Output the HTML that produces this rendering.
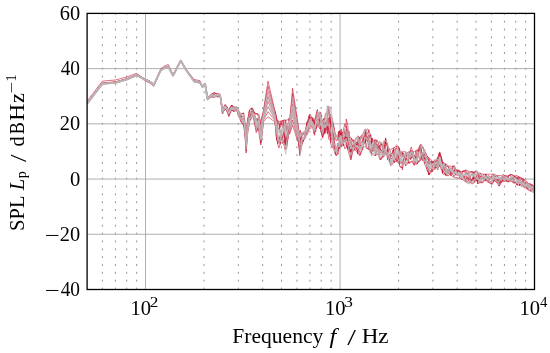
<!DOCTYPE html>
<html><head><meta charset="utf-8"><style>
html,body{margin:0;padding:0;background:#fff;}
svg{display:block;}
.t{font-family:"Liberation Serif",serif;fill:#000;}
.sup{font-size:14px;}
.mg{stroke:#8a8a8a;stroke-width:0.9;stroke-dasharray:2 5.85;stroke-dashoffset:0.6;}
.Mg{stroke:#b0b0b0;stroke-width:1;}
.ax{fill:none;stroke:#000;stroke-width:1.3;}
.r{fill:none;stroke:#c8102e;stroke-opacity:0.6;stroke-width:1.0;stroke-linejoin:round;}
.g{fill:none;stroke:#bcbabb;stroke-opacity:0.75;stroke-width:1.4;stroke-linejoin:round;}
.r1{fill:none;stroke:#c8102e;stroke-opacity:0.6;stroke-width:1.0;stroke-linejoin:round;}
.g1{fill:none;stroke:#bab6b8;stroke-opacity:0.75;stroke-width:1.8;stroke-linejoin:round;}
</style></head><body>
<svg width="550" height="353" viewBox="0 0 550 353">
<rect width="550" height="353" fill="#fff"/>
<line x1="102.40" y1="13.4" x2="102.40" y2="289.5" class="mg"/><line x1="115.42" y1="13.4" x2="115.42" y2="289.5" class="mg"/><line x1="126.70" y1="13.4" x2="126.70" y2="289.5" class="mg"/><line x1="136.65" y1="13.4" x2="136.65" y2="289.5" class="mg"/><line x1="204.10" y1="13.4" x2="204.10" y2="289.5" class="mg"/><line x1="238.35" y1="13.4" x2="238.35" y2="289.5" class="mg"/><line x1="262.65" y1="13.4" x2="262.65" y2="289.5" class="mg"/><line x1="281.50" y1="13.4" x2="281.50" y2="289.5" class="mg"/><line x1="296.90" y1="13.4" x2="296.90" y2="289.5" class="mg"/><line x1="309.92" y1="13.4" x2="309.92" y2="289.5" class="mg"/><line x1="321.20" y1="13.4" x2="321.20" y2="289.5" class="mg"/><line x1="331.15" y1="13.4" x2="331.15" y2="289.5" class="mg"/><line x1="398.60" y1="13.4" x2="398.60" y2="289.5" class="mg"/><line x1="432.85" y1="13.4" x2="432.85" y2="289.5" class="mg"/><line x1="457.15" y1="13.4" x2="457.15" y2="289.5" class="mg"/><line x1="476.00" y1="13.4" x2="476.00" y2="289.5" class="mg"/><line x1="491.40" y1="13.4" x2="491.40" y2="289.5" class="mg"/><line x1="504.42" y1="13.4" x2="504.42" y2="289.5" class="mg"/><line x1="515.70" y1="13.4" x2="515.70" y2="289.5" class="mg"/><line x1="525.65" y1="13.4" x2="525.65" y2="289.5" class="mg"/><line x1="145.55" y1="13.4" x2="145.55" y2="289.5" class="Mg"/><line x1="340.05" y1="13.4" x2="340.05" y2="289.5" class="Mg"/><line x1="87.1" y1="68.62" x2="534.5" y2="68.62" class="Mg"/><line x1="87.1" y1="123.84" x2="534.5" y2="123.84" class="Mg"/><line x1="87.1" y1="179.06" x2="534.5" y2="179.06" class="Mg"/><line x1="87.1" y1="234.28" x2="534.5" y2="234.28" class="Mg"/>
<g clip-path="url(#c)">
<clipPath id="c"><rect x="87.1" y="13.4" width="447.4" height="276.1"/></clipPath>
<path class="r1" d="M87.1,101.1 L102.4,81.1 L115.4,80.0 L126.7,77.0 L136.7,73.3 L145.6,80.0 L150.0,82.2 L153.8,85.2 L160.8,68.6 L164.5,66.1 L168.3,64.5 L173.1,74.7 L180.7,59.9 L186.6,69.9 L194.2,79.5 L200.0,80.7 L202.5,86.1 L205.1,83.1 L207.5,97.4"/><path class="r" d="M205.1,83.1 L207.5,97.4 L210.0,96.0 L211.0,94.5 L212.8,93.6 L214.4,92.7 L215.5,93.4 L217.6,94.5 L219.1,94.2 L219.8,94.3 L220.4,95.6 L222.5,109.1 L222.6,108.4 L224.5,106.3 L225.2,104.6 L227.0,106.9 L227.2,108.8 L228.9,111.5 L229.9,107.7 L231.5,105.5 L232.3,107.0 L234.0,107.5 L234.5,107.0 L236.6,108.2 L236.7,107.4 L238.5,111.3 L238.8,110.8 L241.0,115.0 L241.2,114.0 L243.6,113.0 L243.6,114.1 L244.8,120.5 L246.0,132.3 L246.1,136.0 L247.6,120.0 L248.9,113.2 L249.5,110.0 L250.6,109.0 L251.6,108.3 L252.5,108.0 L253.8,111.6 L254.1,111.9 L256.2,114.0 L257.0,113.1 L258.2,114.7 L259.1,114.8 L260.8,124.6 L261.2,119.5 L263.5,110.2 L263.7,109.1 L265.6,96.5 L267.6,83.9 L268.0,81.2 L270.0,89.8 L272.4,99.9 L274.8,110.2 L275.2,112.0 L276.6,120.9 L277.7,119.9 L278.9,122.0 L280.1,121.4 L280.9,121.0 L282.5,127.8 L283.9,120.0 L284.7,120.0 L285.7,120.0 L286.6,120.0 L287.2,120.0 L288.7,118.8 L289.8,118.3 L291.3,102.4 L292.6,88.3 L293.4,93.5 L295.7,108.4 L297.6,121.1 L297.8,122.4 L299.8,136.2 L300.3,130.3 L301.7,135.8 L301.8,135.5 L303.3,134.1 L304.7,131.7 L305.3,131.1 L307.0,121.5 L307.7,121.3 L308.9,115.5 L309.7,119.4 L310.7,117.6 L312.6,117.7 L312.7,117.9 L314.0,119.2 L314.6,124.9 L315.7,123.9 L317.4,116.4 L317.6,112.7 L319.4,115.0 L320.6,111.9 L321.0,113.5 L322.6,124.1 L322.8,120.7 L324.2,118.3 L324.6,117.9 L325.8,113.0 L327.4,113.6 L327.5,112.8 L328.8,106.2 L330.5,122.3 L330.7,115.9 L332.4,118.8 L332.5,119.8 L334.4,129.8 L335.5,135.7 L336.1,136.5 L337.9,136.2 L338.5,140.9 L339.7,130.5 L340.4,134.6 L341.5,131.4 L343.0,133.3 L343.4,130.6 L344.7,123.8 L346.2,127.5 L346.2,118.9 L347.8,125.5 L347.9,134.1 L349.2,137.6 L350.9,137.8 L351.3,138.0 L352.8,141.7 L353.9,139.8 L354.6,141.4 L356.1,137.6 L357.9,139.2 L358.1,136.0 L359.8,138.1 L359.9,137.7 L361.4,135.7 L362.8,134.8 L363.3,132.8 L365.3,128.9 L365.8,131.8 L367.3,134.1 L368.8,129.8 L369.0,131.9 L370.5,134.4 L371.7,142.3 L372.0,138.0 L374.0,142.1 L374.7,144.9 L375.7,144.2 L376.7,139.8 L377.2,141.2 L379.1,143.6 L379.7,141.7 L380.9,142.5 L382.7,148.9 L382.7,144.7 L384.3,140.5 L385.6,143.8 L385.9,139.3 L387.5,145.7 L387.6,152.6 L388.8,148.6 L390.6,149.7 L390.8,149.6 L392.5,148.4 L393.6,147.7 L394.2,148.0 L395.8,145.7 L396.5,145.0 L397.7,146.0 L399.0,147.3 L399.5,150.0 L400.7,154.4 L402.0,151.1 L402.5,152.6 L403.5,151.9 L405.5,151.7 L405.5,151.7 L407.3,155.8 L408.5,154.6 L409.0,156.2 L410.7,148.2 L411.4,147.0 L412.6,152.2 L414.2,151.7 L414.4,151.7 L416.0,150.6 L417.4,149.7 L417.8,151.7 L419.4,146.4 L420.9,144.0 L421.1,145.1 L422.8,146.4 L423.9,151.0 L424.5,156.3 L425.8,153.0 L426.9,155.9 L427.6,156.6 L428.8,157.9 L428.8,157.9 L430.4,158.9 L431.8,161.3 L432.1,160.8 L433.4,162.4 L434.8,160.9 L434.8,161.1 L436.5,161.0 L437.7,157.6 L437.8,158.6 L439.3,152.9 L439.8,151.9 L441.0,156.0 L442.5,161.1 L442.7,161.8 L444.1,163.7 L445.5,167.5 L445.7,163.8 L446.8,164.5 L448.2,166.4 L448.7,165.8 L449.5,165.8 L450.9,166.1 L451.7,167.0 L452.7,166.3 L454.2,165.8 L454.6,165.8 L455.6,170.1 L457.0,169.9 L457.6,169.8 L458.8,170.4 L460.2,171.2 L461.6,174.3 L462.0,174.0 L463.5,170.8 L465.1,171.5 L465.6,169.8 L466.8,173.3 L468.4,175.5 L469.5,171.7 L470.0,171.7 L471.4,171.7 L473.2,172.5 L473.5,172.4 L474.6,172.0 L476.4,171.7 L477.5,171.7 L477.6,174.4 L479.1,173.2 L480.6,173.1 L481.4,174.6 L482.4,173.7 L483.7,174.5 L485.4,174.1 L485.7,174.2 L487.0,174.2 L488.5,174.2 L488.6,174.2 L490.2,174.2 L491.3,174.2 L492.0,174.2 L493.4,174.2 L494.2,174.2 L494.8,174.5 L496.1,175.2 L497.0,175.8 L497.4,175.6 L498.7,175.6 L499.1,175.6 L500.5,175.6 L501.2,175.6 L502.2,176.5 L503.3,174.2 L503.4,174.3 L505.0,176.1 L505.5,175.9 L506.5,176.9 L508.0,177.3 L508.3,175.6 L509.6,175.7 L511.0,174.2 L511.1,174.2 L512.8,175.0 L514.0,176.4 L514.3,176.7 L515.8,175.6 L516.8,175.6 L517.4,175.9 L518.7,176.6 L519.6,178.4 L520.0,177.2 L521.4,177.9 L522.5,179.9 L523.1,178.8 L524.8,180.1 L525.3,180.5 L526.4,181.3 L527.7,182.3 L528.1,184.4 L529.4,184.0 L531.0,184.0 L531.1,184.6 L532.8,185.0 L534.3,187.7 L535.0,187.3"/><path class="r1" d="M87.1,103.1 L102.4,83.1 L115.4,82.0 L126.7,78.8 L136.7,74.6 L145.6,79.1 L150.0,81.1 L153.8,84.1 L160.8,69.5 L164.5,67.4 L168.3,66.1 L173.1,74.9 L180.7,60.1 L186.6,70.1 L194.2,80.8 L200.0,82.0 L202.5,86.3 L205.1,83.3 L207.5,98.0"/><path class="r" d="M205.1,83.3 L207.5,98.0 L210.0,95.3 L211.0,94.5 L212.8,93.5 L214.4,92.7 L215.5,93.2 L217.6,94.2 L219.1,95.1 L219.8,94.3 L220.4,95.3 L222.5,110.2 L222.6,108.4 L224.5,106.0 L225.2,104.6 L227.0,107.8 L227.2,106.8 L228.9,111.7 L229.9,109.4 L231.5,106.8 L232.3,105.4 L234.0,108.8 L234.5,107.0 L236.6,107.2 L236.7,107.4 L238.5,112.1 L238.8,112.8 L241.0,116.8 L241.2,114.0 L243.6,113.0 L243.6,113.6 L244.8,123.4 L246.0,137.6 L246.1,137.5 L247.6,123.4 L248.9,113.2 L249.5,110.0 L250.6,109.0 L251.6,108.3 L252.5,110.6 L253.8,112.5 L254.1,111.9 L256.2,114.6 L257.0,113.6 L258.2,116.3 L259.1,125.2 L260.8,133.8 L261.2,120.7 L263.5,111.9 L263.7,110.9 L265.6,99.7 L267.6,88.6 L268.0,86.3 L270.0,93.9 L272.4,102.8 L274.8,111.9 L275.2,111.7 L276.6,118.0 L277.7,122.4 L278.9,122.0 L280.1,127.7 L280.9,121.0 L282.5,120.5 L283.9,120.0 L284.7,131.1 L285.7,120.0 L286.6,130.6 L287.2,130.4 L288.7,118.8 L289.8,120.5 L291.3,106.2 L292.6,93.5 L293.4,98.4 L295.7,112.2 L297.6,123.9 L297.8,125.1 L299.8,136.6 L300.3,139.7 L301.7,140.3 L301.8,134.3 L303.3,134.2 L304.7,133.3 L305.3,134.1 L307.0,122.1 L307.7,121.3 L308.9,119.2 L309.7,113.9 L310.7,115.3 L312.6,119.7 L312.7,119.9 L314.0,127.1 L314.6,120.6 L315.7,115.7 L317.4,109.5 L317.6,118.6 L319.4,115.6 L320.6,122.6 L321.0,123.0 L322.6,132.6 L322.8,120.8 L324.2,118.3 L324.6,120.3 L325.8,125.4 L327.4,116.7 L327.5,106.0 L328.8,115.2 L330.5,121.9 L330.7,123.6 L332.4,123.4 L332.5,128.4 L334.4,139.7 L335.5,135.7 L336.1,134.8 L337.9,139.7 L338.5,131.7 L339.7,131.2 L340.4,135.0 L341.5,133.3 L343.0,137.6 L343.4,146.1 L344.7,129.6 L346.2,138.7 L346.2,135.1 L347.8,129.5 L347.9,132.5 L349.2,131.2 L350.9,149.7 L351.3,138.4 L352.8,139.6 L353.9,145.2 L354.6,141.7 L356.1,141.9 L357.9,143.1 L358.1,136.0 L359.8,137.8 L359.9,140.4 L361.4,135.7 L362.8,135.7 L363.3,138.8 L365.3,134.8 L365.8,133.2 L367.3,128.9 L368.8,130.2 L369.0,137.3 L370.5,134.4 L371.7,142.7 L372.0,138.0 L374.0,147.7 L374.7,139.8 L375.7,139.8 L376.7,143.7 L377.2,145.3 L379.1,146.7 L379.7,145.1 L380.9,144.1 L382.7,144.3 L382.7,149.0 L384.3,148.9 L385.6,137.8 L385.9,144.1 L387.5,143.3 L387.6,146.1 L388.8,148.2 L390.6,152.0 L390.8,156.4 L392.5,152.5 L393.6,147.9 L394.2,150.4 L395.8,149.0 L396.5,147.8 L397.7,149.6 L399.0,153.8 L399.5,151.5 L400.7,155.8 L402.0,152.2 L402.5,157.0 L403.5,153.2 L405.5,160.3 L405.5,161.7 L407.3,152.2 L408.5,153.1 L409.0,156.1 L410.7,150.4 L411.4,151.8 L412.6,151.7 L414.2,156.3 L414.4,159.8 L416.0,150.6 L417.4,158.2 L417.8,150.5 L419.4,151.3 L420.9,145.8 L421.1,150.9 L422.8,147.0 L423.9,150.5 L424.5,149.6 L425.8,153.7 L426.9,157.3 L427.6,156.6 L428.8,157.9 L428.8,163.0 L430.4,165.2 L431.8,163.4 L432.1,161.9 L433.4,163.5 L434.8,159.8 L434.8,163.3 L436.5,162.2 L437.7,160.1 L437.8,157.8 L439.3,152.9 L439.8,156.1 L441.0,156.4 L442.5,165.6 L442.7,162.5 L444.1,162.8 L445.5,165.1 L445.7,166.6 L446.8,169.8 L448.2,169.4 L448.7,166.7 L449.5,170.8 L450.9,168.8 L451.7,171.5 L452.7,167.7 L454.2,166.5 L454.6,168.3 L455.6,169.5 L457.0,171.7 L457.6,171.6 L458.8,170.8 L460.2,171.1 L461.6,171.7 L462.0,171.5 L463.5,171.2 L465.1,170.1 L465.6,170.5 L466.8,170.4 L468.4,171.2 L469.5,171.7 L470.0,171.7 L471.4,171.7 L473.2,171.7 L473.5,176.2 L474.6,171.7 L476.4,171.7 L477.5,172.6 L477.6,171.8 L479.1,176.1 L480.6,173.1 L481.4,174.5 L482.4,177.0 L483.7,174.4 L485.4,175.2 L485.7,174.2 L487.0,176.7 L488.5,178.1 L488.6,175.6 L490.2,178.2 L491.3,175.9 L492.0,175.4 L493.4,174.4 L494.2,174.7 L494.8,177.0 L496.1,176.7 L497.0,175.6 L497.4,175.6 L498.7,178.1 L499.1,182.8 L500.5,179.6 L501.2,178.6 L502.2,177.7 L503.3,175.7 L503.4,176.4 L505.0,175.3 L505.5,175.6 L506.5,177.2 L508.0,179.3 L508.3,176.0 L509.6,174.9 L511.0,174.2 L511.1,174.6 L512.8,175.0 L514.0,177.2 L514.3,175.6 L515.8,177.5 L516.8,179.8 L517.4,179.3 L518.7,176.6 L519.6,178.7 L520.0,181.5 L521.4,177.9 L522.5,178.4 L523.1,179.4 L524.8,180.1 L525.3,183.5 L526.4,182.2 L527.7,183.5 L528.1,183.9 L529.4,184.0 L531.0,184.0 L531.1,186.6 L532.8,186.8 L534.3,188.7 L535.0,186.8"/><path class="r1" d="M87.1,103.3 L102.4,83.3 L115.4,82.2 L126.7,79.0 L136.7,74.8 L145.6,79.3 L150.0,81.3 L153.8,84.3 L160.8,69.7 L164.5,67.6 L168.3,66.3 L173.1,75.1 L180.7,60.3 L186.6,70.3 L194.2,81.0 L200.0,82.2 L202.5,86.5 L205.1,83.5 L207.5,98.9"/><path class="r" d="M205.1,83.5 L207.5,98.9 L210.0,95.9 L211.0,95.3 L212.8,95.3 L214.4,93.3 L215.5,93.6 L217.6,93.8 L219.1,93.5 L219.8,95.9 L220.4,97.3 L222.5,113.0 L222.6,110.2 L224.5,107.8 L225.2,107.0 L227.0,109.0 L227.2,111.1 L228.9,109.7 L229.9,108.2 L231.5,105.4 L232.3,105.4 L234.0,107.1 L234.5,108.5 L236.6,106.8 L236.7,107.6 L238.5,111.2 L238.8,115.0 L241.0,115.5 L241.2,117.6 L243.6,120.3 L243.6,120.1 L244.8,129.9 L246.0,140.6 L246.1,133.9 L247.6,120.0 L248.9,115.2 L249.5,111.6 L250.6,115.6 L251.6,108.3 L252.5,108.5 L253.8,111.6 L254.1,111.9 L256.2,119.8 L257.0,118.4 L258.2,124.3 L259.1,123.7 L260.8,128.7 L261.2,131.6 L263.5,113.5 L263.7,112.7 L265.6,103.0 L267.6,93.4 L268.0,91.4 L270.0,97.9 L272.4,105.6 L274.8,113.5 L275.2,111.7 L276.6,118.0 L277.7,127.5 L278.9,129.4 L280.1,123.8 L280.9,124.5 L282.5,120.5 L283.9,128.5 L284.7,124.2 L285.7,129.1 L286.6,125.6 L287.2,126.7 L288.7,135.0 L289.8,122.7 L291.3,110.0 L292.6,98.8 L293.4,103.3 L295.7,116.0 L297.6,126.8 L297.8,127.9 L299.8,145.7 L300.3,141.9 L301.7,132.8 L301.8,134.4 L303.3,133.4 L304.7,134.6 L305.3,130.6 L307.0,126.1 L307.7,121.3 L308.9,122.4 L309.7,116.6 L310.7,123.8 L312.6,122.3 L312.7,117.9 L314.0,125.4 L314.6,122.8 L315.7,118.2 L317.4,112.7 L317.6,116.9 L319.4,112.1 L320.6,115.8 L321.0,121.5 L322.6,122.9 L322.8,129.7 L324.2,118.8 L324.6,123.1 L325.8,122.8 L327.4,120.4 L327.5,126.6 L328.8,132.0 L330.5,140.1 L330.7,119.2 L332.4,130.1 L332.5,121.7 L334.4,129.8 L335.5,137.1 L336.1,140.7 L337.9,139.6 L338.5,131.7 L339.7,140.1 L340.4,131.1 L341.5,129.0 L343.0,140.5 L343.4,142.1 L344.7,141.5 L346.2,131.5 L346.2,135.8 L347.8,141.7 L347.9,134.9 L349.2,152.0 L350.9,150.8 L351.3,147.8 L352.8,151.5 L353.9,144.3 L354.6,146.8 L356.1,147.0 L357.9,140.8 L358.1,143.4 L359.8,143.6 L359.9,141.5 L361.4,135.7 L362.8,142.0 L363.3,142.0 L365.3,129.4 L365.8,136.5 L367.3,137.8 L368.8,135.2 L369.0,144.5 L370.5,140.7 L371.7,146.2 L372.0,148.4 L374.0,146.1 L374.7,139.8 L375.7,147.8 L376.7,151.8 L377.2,148.9 L379.1,145.8 L379.7,152.2 L380.9,152.5 L382.7,149.9 L382.7,147.1 L384.3,143.5 L385.6,140.2 L385.9,142.0 L387.5,146.2 L387.6,144.6 L388.8,152.9 L390.6,156.1 L390.8,154.7 L392.5,152.4 L393.6,149.5 L394.2,154.8 L395.8,150.2 L396.5,146.0 L397.7,147.2 L399.0,149.1 L399.5,154.1 L400.7,153.0 L402.0,155.0 L402.5,156.1 L403.5,153.2 L405.5,160.6 L405.5,158.7 L407.3,155.4 L408.5,157.1 L409.0,157.0 L410.7,155.3 L411.4,158.0 L412.6,151.0 L414.2,156.8 L414.4,158.4 L416.0,157.8 L417.4,157.7 L417.8,155.8 L419.4,148.9 L420.9,147.9 L421.1,149.9 L422.8,155.9 L423.9,155.4 L424.5,155.0 L425.8,160.4 L426.9,155.9 L427.6,159.5 L428.8,161.2 L428.8,164.0 L430.4,161.0 L431.8,164.6 L432.1,167.5 L433.4,160.8 L434.8,164.4 L434.8,165.2 L436.5,165.3 L437.7,160.1 L437.8,164.8 L439.3,154.5 L439.8,154.2 L441.0,160.0 L442.5,163.0 L442.7,166.3 L444.1,167.6 L445.5,163.7 L445.7,166.0 L446.8,166.5 L448.2,166.5 L448.7,169.8 L449.5,169.6 L450.9,168.3 L451.7,169.8 L452.7,165.8 L454.2,167.7 L454.6,170.9 L455.6,168.2 L457.0,172.7 L457.6,172.1 L458.8,170.6 L460.2,174.7 L461.6,176.3 L462.0,171.5 L463.5,170.8 L465.1,172.9 L465.6,173.3 L466.8,173.6 L468.4,171.7 L469.5,172.8 L470.0,172.7 L471.4,171.7 L473.2,175.1 L473.5,172.1 L474.6,172.2 L476.4,176.3 L477.5,173.5 L477.6,175.1 L479.1,177.0 L480.6,176.0 L481.4,178.9 L482.4,179.2 L483.7,176.6 L485.4,177.7 L485.7,176.7 L487.0,177.9 L488.5,175.7 L488.6,176.0 L490.2,178.7 L491.3,176.5 L492.0,178.8 L493.4,178.5 L494.2,175.2 L494.8,177.5 L496.1,175.2 L497.0,176.7 L497.4,176.6 L498.7,179.5 L499.1,183.6 L500.5,177.7 L501.2,178.1 L502.2,178.6 L503.3,176.8 L503.4,177.2 L505.0,176.4 L505.5,176.0 L506.5,177.1 L508.0,175.6 L508.3,175.6 L509.6,175.1 L511.0,175.7 L511.1,177.7 L512.8,178.3 L514.0,177.1 L514.3,176.5 L515.8,178.5 L516.8,178.8 L517.4,177.1 L518.7,176.6 L519.6,177.0 L520.0,180.4 L521.4,181.7 L522.5,181.9 L523.1,179.9 L524.8,185.8 L525.3,182.6 L526.4,186.5 L527.7,184.2 L528.1,183.1 L529.4,184.7 L531.0,185.1 L531.1,185.7 L532.8,184.9 L534.3,187.6 L535.0,186.0"/><path class="r1" d="M87.1,103.5 L102.4,83.5 L115.4,82.4 L126.7,79.2 L136.7,75.0 L145.6,79.5 L150.0,81.5 L153.8,84.5 L160.8,69.9 L164.5,67.8 L168.3,66.5 L173.1,75.3 L180.7,60.5 L186.6,70.5 L194.2,81.2 L200.0,82.4 L202.5,86.7 L205.1,83.7 L207.5,97.8"/><path class="r" d="M205.1,83.7 L207.5,97.8 L210.0,96.5 L211.0,94.5 L212.8,93.7 L214.4,95.2 L215.5,95.5 L217.6,95.9 L219.1,95.0 L219.8,95.8 L220.4,96.3 L222.5,111.1 L222.6,110.2 L224.5,108.1 L225.2,107.3 L227.0,106.9 L227.2,107.6 L228.9,112.2 L229.9,109.1 L231.5,105.4 L232.3,107.8 L234.0,107.1 L234.5,107.7 L236.6,108.0 L236.7,107.1 L238.5,111.7 L238.8,114.5 L241.0,118.7 L241.2,116.2 L243.6,116.4 L243.6,118.7 L244.8,133.1 L246.0,142.0 L246.1,133.0 L247.6,128.4 L248.9,120.2 L249.5,118.6 L250.6,115.1 L251.6,111.0 L252.5,109.0 L253.8,114.4 L254.1,119.1 L256.2,124.2 L257.0,123.3 L258.2,124.0 L259.1,118.7 L260.8,125.0 L261.2,133.5 L263.5,115.2 L263.7,114.5 L265.6,106.3 L267.6,98.2 L268.0,96.5 L270.0,102.0 L272.4,108.5 L274.8,115.2 L275.2,117.5 L276.6,124.5 L277.7,123.2 L278.9,124.0 L280.1,133.1 L280.9,130.5 L282.5,138.4 L283.9,129.5 L284.7,133.3 L285.7,143.4 L286.6,145.2 L287.2,136.8 L288.7,126.6 L289.8,124.9 L291.3,113.9 L292.6,104.1 L293.4,108.2 L295.7,119.8 L297.6,129.6 L297.8,130.6 L299.8,146.4 L300.3,145.6 L301.7,136.3 L301.8,134.3 L303.3,132.5 L304.7,136.2 L305.3,133.2 L307.0,124.0 L307.7,127.2 L308.9,118.8 L309.7,116.8 L310.7,118.0 L312.6,121.4 L312.7,119.8 L314.0,124.8 L314.6,126.3 L315.7,123.5 L317.4,110.6 L317.6,120.1 L319.4,118.5 L320.6,119.5 L321.0,122.5 L322.6,125.3 L322.8,128.1 L324.2,130.6 L324.6,126.9 L325.8,130.4 L327.4,122.5 L327.5,117.4 L328.8,128.5 L330.5,114.2 L330.7,121.6 L332.4,121.9 L332.5,135.5 L334.4,144.1 L335.5,149.3 L336.1,149.8 L337.9,142.9 L338.5,148.7 L339.7,142.5 L340.4,141.1 L341.5,142.2 L343.0,136.9 L343.4,143.8 L344.7,138.6 L346.2,139.5 L346.2,126.1 L347.8,138.0 L347.9,134.7 L349.2,146.8 L350.9,152.1 L351.3,141.5 L352.8,148.0 L353.9,146.3 L354.6,141.7 L356.1,149.9 L357.9,143.9 L358.1,141.9 L359.8,137.8 L359.9,148.5 L361.4,141.5 L362.8,140.2 L363.3,138.5 L365.3,141.2 L365.8,130.6 L367.3,138.6 L368.8,135.7 L369.0,141.2 L370.5,144.4 L371.7,142.3 L372.0,151.1 L374.0,151.1 L374.7,148.8 L375.7,152.5 L376.7,151.9 L377.2,148.3 L379.1,151.2 L379.7,147.9 L380.9,150.4 L382.7,150.1 L382.7,152.5 L384.3,147.3 L385.6,138.6 L385.9,143.0 L387.5,146.9 L387.6,153.3 L388.8,154.8 L390.6,157.7 L390.8,159.2 L392.5,158.1 L393.6,153.9 L394.2,156.6 L395.8,159.6 L396.5,160.5 L397.7,153.2 L399.0,155.0 L399.5,160.3 L400.7,163.5 L402.0,161.1 L402.5,163.3 L403.5,158.1 L405.5,157.5 L405.5,152.5 L407.3,154.2 L408.5,157.4 L409.0,151.5 L410.7,156.6 L411.4,151.9 L412.6,157.1 L414.2,159.1 L414.4,155.2 L416.0,158.1 L417.4,154.3 L417.8,155.9 L419.4,147.0 L420.9,144.0 L421.1,150.7 L422.8,154.1 L423.9,153.7 L424.5,161.3 L425.8,157.3 L426.9,166.2 L427.6,164.5 L428.8,162.4 L428.8,158.8 L430.4,165.2 L431.8,161.1 L432.1,165.1 L433.4,164.5 L434.8,163.7 L434.8,163.7 L436.5,158.9 L437.7,158.7 L437.8,163.3 L439.3,156.7 L439.8,152.8 L441.0,157.1 L442.5,163.3 L442.7,163.8 L444.1,169.1 L445.5,173.9 L445.7,172.6 L446.8,173.4 L448.2,170.5 L448.7,167.2 L449.5,172.3 L450.9,167.7 L451.7,169.7 L452.7,170.3 L454.2,171.7 L454.6,168.3 L455.6,171.4 L457.0,170.7 L457.6,174.9 L458.8,175.1 L460.2,175.7 L461.6,174.9 L462.0,174.5 L463.5,175.8 L465.1,177.8 L465.6,180.3 L466.8,182.3 L468.4,180.2 L469.5,174.6 L470.0,177.7 L471.4,174.1 L473.2,175.5 L473.5,177.0 L474.6,176.5 L476.4,179.4 L477.5,176.3 L477.6,174.3 L479.1,178.4 L480.6,178.4 L481.4,177.7 L482.4,178.8 L483.7,178.9 L485.4,176.1 L485.7,174.2 L487.0,176.6 L488.5,180.8 L488.6,178.8 L490.2,178.4 L491.3,178.0 L492.0,177.7 L493.4,175.3 L494.2,176.2 L494.8,180.0 L496.1,178.5 L497.0,179.6 L497.4,182.4 L498.7,183.5 L499.1,182.8 L500.5,181.9 L501.2,181.0 L502.2,175.7 L503.3,176.6 L503.4,179.0 L505.0,176.9 L505.5,178.2 L506.5,175.6 L508.0,176.7 L508.3,182.0 L509.6,179.0 L511.0,179.1 L511.1,179.8 L512.8,177.2 L514.0,181.7 L514.3,177.8 L515.8,176.5 L516.8,177.2 L517.4,179.1 L518.7,178.6 L519.6,182.3 L520.0,177.8 L521.4,179.7 L522.5,180.6 L523.1,182.9 L524.8,185.0 L525.3,183.7 L526.4,184.5 L527.7,185.4 L528.1,183.7 L529.4,185.8 L531.0,190.7 L531.1,185.8 L532.8,189.4 L534.3,188.0 L535.0,187.5"/><path class="r1" d="M87.1,103.7 L102.4,83.7 L115.4,82.6 L126.7,79.4 L136.7,75.2 L145.6,79.7 L150.0,81.7 L153.8,84.7 L160.8,70.1 L164.5,68.0 L168.3,66.7 L173.1,75.5 L180.7,60.7 L186.6,70.7 L194.2,81.4 L200.0,82.6 L202.5,86.9 L205.1,83.9 L207.5,98.9"/><path class="r" d="M205.1,83.9 L207.5,98.9 L210.0,96.3 L211.0,96.6 L212.8,95.9 L214.4,94.6 L215.5,96.4 L217.6,95.0 L219.1,95.5 L219.8,96.4 L220.4,97.3 L222.5,110.2 L222.6,112.9 L224.5,107.2 L225.2,105.2 L227.0,109.2 L227.2,108.6 L228.9,115.0 L229.9,111.8 L231.5,106.8 L232.3,108.7 L234.0,109.3 L234.5,110.2 L236.6,107.8 L236.7,109.6 L238.5,113.7 L238.8,112.3 L241.0,119.4 L241.2,117.6 L243.6,120.5 L243.6,117.5 L244.8,132.9 L246.0,141.8 L246.1,145.2 L247.6,129.6 L248.9,118.6 L249.5,112.9 L250.6,117.9 L251.6,110.8 L252.5,110.8 L253.8,115.7 L254.1,116.6 L256.2,121.2 L257.0,118.6 L258.2,122.1 L259.1,131.0 L260.8,136.5 L261.2,127.6 L263.5,116.8 L263.7,116.2 L265.6,109.6 L267.6,102.9 L268.0,101.5 L270.0,106.0 L272.4,111.4 L274.8,116.8 L275.2,124.2 L276.6,139.3 L277.7,143.8 L278.9,136.7 L280.1,144.4 L280.9,136.1 L282.5,142.4 L283.9,142.5 L284.7,134.6 L285.7,144.6 L286.6,134.7 L287.2,140.4 L288.7,129.5 L289.8,127.1 L291.3,117.7 L292.6,109.4 L293.4,113.1 L295.7,123.6 L297.6,132.4 L297.8,133.4 L299.8,155.7 L300.3,142.1 L301.7,143.4 L301.8,139.5 L303.3,140.0 L304.7,137.2 L305.3,134.6 L307.0,130.7 L307.7,129.0 L308.9,128.3 L309.7,118.8 L310.7,120.1 L312.6,122.6 L312.7,119.5 L314.0,126.5 L314.6,127.9 L315.7,128.8 L317.4,121.4 L317.6,122.8 L319.4,128.2 L320.6,121.4 L321.0,126.9 L322.6,130.0 L322.8,122.0 L324.2,123.0 L324.6,126.4 L325.8,122.5 L327.4,120.5 L327.5,124.0 L328.8,117.7 L330.5,122.7 L330.7,133.4 L332.4,135.7 L332.5,131.3 L334.4,141.0 L335.5,151.1 L336.1,150.8 L337.9,150.6 L338.5,146.7 L339.7,148.5 L340.4,136.9 L341.5,136.4 L343.0,136.4 L343.4,133.5 L344.7,130.8 L346.2,138.8 L346.2,136.9 L347.8,148.1 L347.9,132.1 L349.2,150.1 L350.9,153.2 L351.3,143.8 L352.8,146.7 L353.9,145.0 L354.6,145.7 L356.1,142.3 L357.9,153.6 L358.1,142.6 L359.8,149.2 L359.9,145.5 L361.4,146.2 L362.8,141.8 L363.3,141.7 L365.3,143.0 L365.8,138.3 L367.3,141.8 L368.8,137.3 L369.0,145.5 L370.5,149.6 L371.7,149.0 L372.0,149.4 L374.0,147.6 L374.7,150.5 L375.7,151.3 L376.7,142.9 L377.2,140.1 L379.1,145.7 L379.7,154.9 L380.9,143.5 L382.7,145.4 L382.7,149.8 L384.3,153.5 L385.6,144.6 L385.9,151.5 L387.5,156.3 L387.6,153.3 L388.8,157.2 L390.6,155.4 L390.8,155.2 L392.5,152.3 L393.6,149.4 L394.2,156.5 L395.8,153.1 L396.5,152.8 L397.7,160.8 L399.0,154.3 L399.5,148.1 L400.7,156.8 L402.0,157.4 L402.5,152.9 L403.5,156.9 L405.5,157.3 L405.5,153.9 L407.3,160.7 L408.5,159.7 L409.0,156.4 L410.7,159.5 L411.4,150.4 L412.6,152.6 L414.2,162.0 L414.4,162.0 L416.0,155.9 L417.4,160.2 L417.8,162.6 L419.4,160.6 L420.9,149.9 L421.1,153.0 L422.8,156.5 L423.9,152.6 L424.5,154.1 L425.8,163.3 L426.9,164.0 L427.6,161.4 L428.8,174.3 L428.8,166.4 L430.4,169.0 L431.8,167.7 L432.1,168.4 L433.4,167.4 L434.8,166.5 L434.8,164.9 L436.5,164.1 L437.7,169.8 L437.8,161.5 L439.3,160.3 L439.8,161.9 L441.0,159.6 L442.5,164.7 L442.7,171.8 L444.1,166.8 L445.5,167.2 L445.7,173.9 L446.8,170.7 L448.2,172.1 L448.7,174.1 L449.5,170.4 L450.9,175.7 L451.7,173.5 L452.7,173.3 L454.2,170.9 L454.6,172.8 L455.6,174.8 L457.0,173.2 L457.6,170.2 L458.8,170.9 L460.2,172.6 L461.6,174.0 L462.0,175.4 L463.5,175.4 L465.1,176.9 L465.6,171.6 L466.8,173.8 L468.4,173.6 L469.5,179.5 L470.0,178.8 L471.4,182.4 L473.2,176.5 L473.5,174.5 L474.6,176.9 L476.4,179.4 L477.5,178.1 L477.6,179.3 L479.1,177.1 L480.6,176.9 L481.4,175.5 L482.4,178.1 L483.7,178.7 L485.4,177.3 L485.7,180.2 L487.0,179.0 L488.5,180.8 L488.6,178.5 L490.2,178.8 L491.3,176.5 L492.0,180.1 L493.4,179.8 L494.2,180.8 L494.8,180.6 L496.1,181.5 L497.0,179.6 L497.4,181.1 L498.7,178.3 L499.1,183.3 L500.5,178.5 L501.2,181.8 L502.2,180.5 L503.3,177.0 L503.4,179.8 L505.0,179.5 L505.5,178.0 L506.5,180.1 L508.0,179.7 L508.3,181.6 L509.6,181.9 L511.0,180.2 L511.1,177.9 L512.8,179.2 L514.0,179.6 L514.3,175.6 L515.8,178.1 L516.8,177.8 L517.4,178.6 L518.7,178.9 L519.6,181.2 L520.0,183.4 L521.4,182.0 L522.5,184.3 L523.1,186.8 L524.8,186.9 L525.3,187.3 L526.4,183.6 L527.7,188.9 L528.1,185.7 L529.4,185.8 L531.0,188.0 L531.1,188.4 L532.8,190.2 L534.3,189.1 L535.0,191.8"/><path class="r1" d="M87.1,103.9 L102.4,83.9 L115.4,82.8 L126.7,79.6 L136.7,75.4 L145.6,79.9 L150.0,81.9 L153.8,84.9 L160.8,70.3 L164.5,68.2 L168.3,66.9 L173.1,75.7 L180.7,60.9 L186.6,70.9 L194.2,81.6 L200.0,82.8 L202.5,87.1 L205.1,84.1 L207.5,98.5"/><path class="r" d="M205.1,84.1 L207.5,98.5 L210.0,97.7 L211.0,97.0 L212.8,97.2 L214.4,97.0 L215.5,96.2 L217.6,96.8 L219.1,96.5 L219.8,97.3 L220.4,97.7 L222.5,114.0 L222.6,113.9 L224.5,108.2 L225.2,106.9 L227.0,107.8 L227.2,112.1 L228.9,116.7 L229.9,113.1 L231.5,108.7 L232.3,110.1 L234.0,110.8 L234.5,110.7 L236.6,109.2 L236.7,108.9 L238.5,115.2 L238.8,116.1 L241.0,119.2 L241.2,120.4 L243.6,122.3 L243.6,125.2 L244.8,135.0 L246.0,148.9 L246.1,153.0 L247.6,133.9 L248.9,123.7 L249.5,122.0 L250.6,119.4 L251.6,117.5 L252.5,110.8 L253.8,115.5 L254.1,118.6 L256.2,128.3 L257.0,124.5 L258.2,124.4 L259.1,126.4 L260.8,143.1 L261.2,132.6 L263.5,118.5 L263.7,118.0 L265.6,112.8 L267.6,107.7 L268.0,106.6 L270.0,110.1 L272.4,114.2 L274.8,118.5 L275.2,118.0 L276.6,124.7 L277.7,138.5 L278.9,139.1 L280.1,135.2 L280.9,133.9 L282.5,138.5 L283.9,145.0 L284.7,139.7 L285.7,143.7 L286.6,141.8 L287.2,142.0 L288.7,135.1 L289.8,129.3 L291.3,121.5 L292.6,114.7 L293.4,118.0 L295.7,127.3 L297.6,135.3 L297.8,136.1 L299.8,153.4 L300.3,137.7 L301.7,139.3 L301.8,137.8 L303.3,141.9 L304.7,136.2 L305.3,132.5 L307.0,135.1 L307.7,127.4 L308.9,124.0 L309.7,121.8 L310.7,126.0 L312.6,125.4 L312.7,123.3 L314.0,128.5 L314.6,128.9 L315.7,128.9 L317.4,126.3 L317.6,120.8 L319.4,118.6 L320.6,129.0 L321.0,124.8 L322.6,131.8 L322.8,135.2 L324.2,131.4 L324.6,125.2 L325.8,122.8 L327.4,123.7 L327.5,119.3 L328.8,124.5 L330.5,135.8 L330.7,134.9 L332.4,133.9 L332.5,140.1 L334.4,144.1 L335.5,151.3 L336.1,154.5 L337.9,154.2 L338.5,149.7 L339.7,137.6 L340.4,142.0 L341.5,132.6 L343.0,144.7 L343.4,140.9 L344.7,136.7 L346.2,142.2 L346.2,145.1 L347.8,148.7 L347.9,145.4 L349.2,139.4 L350.9,150.4 L351.3,153.5 L352.8,145.1 L353.9,148.9 L354.6,149.6 L356.1,144.5 L357.9,143.5 L358.1,145.7 L359.8,147.9 L359.9,146.7 L361.4,148.1 L362.8,148.3 L363.3,144.4 L365.3,143.3 L365.8,137.0 L367.3,137.0 L368.8,149.7 L369.0,143.6 L370.5,153.1 L371.7,149.0 L372.0,150.3 L374.0,150.0 L374.7,143.5 L375.7,145.0 L376.7,148.1 L377.2,144.3 L379.1,149.7 L379.7,150.9 L380.9,149.2 L382.7,155.6 L382.7,153.7 L384.3,150.2 L385.6,150.8 L385.9,153.1 L387.5,149.6 L387.6,159.6 L388.8,157.0 L390.6,165.3 L390.8,157.3 L392.5,154.2 L393.6,154.1 L394.2,162.9 L395.8,160.9 L396.5,161.5 L397.7,160.8 L399.0,156.8 L399.5,159.9 L400.7,158.3 L402.0,163.2 L402.5,167.7 L403.5,160.0 L405.5,165.6 L405.5,164.2 L407.3,161.7 L408.5,163.2 L409.0,157.4 L410.7,159.4 L411.4,156.5 L412.6,158.2 L414.2,158.3 L414.4,157.5 L416.0,164.5 L417.4,163.6 L417.8,160.3 L419.4,161.4 L420.9,159.8 L421.1,154.6 L422.8,161.0 L423.9,154.8 L424.5,160.9 L425.8,161.2 L426.9,162.2 L427.6,167.5 L428.8,169.9 L428.8,169.6 L430.4,171.3 L431.8,171.7 L432.1,166.5 L433.4,167.4 L434.8,167.5 L434.8,166.9 L436.5,164.9 L437.7,166.2 L437.8,167.8 L439.3,166.8 L439.8,163.5 L441.0,167.2 L442.5,166.0 L442.7,173.3 L444.1,170.2 L445.5,166.7 L445.7,171.7 L446.8,170.4 L448.2,172.3 L448.7,173.2 L449.5,174.3 L450.9,171.2 L451.7,173.9 L452.7,169.8 L454.2,170.0 L454.6,172.8 L455.6,175.2 L457.0,174.8 L457.6,172.9 L458.8,174.6 L460.2,178.8 L461.6,178.2 L462.0,179.9 L463.5,177.6 L465.1,179.9 L465.6,181.5 L466.8,178.1 L468.4,176.9 L469.5,176.9 L470.0,177.3 L471.4,180.9 L473.2,177.1 L473.5,177.0 L474.6,180.5 L476.4,176.0 L477.5,181.4 L477.6,180.2 L479.1,179.1 L480.6,179.0 L481.4,177.0 L482.4,178.0 L483.7,180.9 L485.4,178.2 L485.7,176.1 L487.0,180.9 L488.5,179.8 L488.6,182.2 L490.2,181.9 L491.3,182.2 L492.0,179.7 L493.4,180.7 L494.2,180.7 L494.8,178.1 L496.1,180.4 L497.0,180.1 L497.4,179.8 L498.7,180.2 L499.1,184.1 L500.5,182.8 L501.2,180.5 L502.2,178.7 L503.3,179.2 L503.4,179.9 L505.0,178.3 L505.5,179.6 L506.5,180.1 L508.0,179.5 L508.3,179.7 L509.6,181.1 L511.0,178.2 L511.1,179.2 L512.8,181.2 L514.0,183.3 L514.3,180.7 L515.8,182.0 L516.8,184.8 L517.4,185.0 L518.7,180.8 L519.6,185.0 L520.0,181.8 L521.4,184.8 L522.5,181.3 L523.1,183.3 L524.8,184.0 L525.3,186.9 L526.4,186.2 L527.7,184.8 L528.1,186.6 L529.4,187.1 L531.0,187.7 L531.1,188.2 L532.8,189.7 L534.3,189.7 L535.0,190.4"/><path class="r1" d="M87.1,104.1 L102.4,84.1 L115.4,83.0 L126.7,79.8 L136.7,75.6 L145.6,80.1 L150.0,82.1 L153.8,85.1 L160.8,70.5 L164.5,68.4 L168.3,67.1 L173.1,75.9 L180.7,61.1 L186.6,71.1 L194.2,81.8 L200.0,83.0 L202.5,87.3 L205.1,84.3 L207.5,99.3"/><path class="r" d="M205.1,84.3 L207.5,99.3 L210.0,97.7 L211.0,95.7 L212.8,96.6 L214.4,95.2 L215.5,96.4 L217.6,96.8 L219.1,96.1 L219.8,97.3 L220.4,97.6 L222.5,111.7 L222.6,110.6 L224.5,110.3 L225.2,108.4 L227.0,111.6 L227.2,111.5 L228.9,115.9 L229.9,112.4 L231.5,109.6 L232.3,110.3 L234.0,111.6 L234.5,109.8 L236.6,109.8 L236.7,109.4 L238.5,115.2 L238.8,114.0 L241.0,120.3 L241.2,122.0 L243.6,125.6 L243.6,122.4 L244.8,129.8 L246.0,144.8 L246.1,148.7 L247.6,131.3 L248.9,126.0 L249.5,114.3 L250.6,119.2 L251.6,112.6 L252.5,113.0 L253.8,118.5 L254.1,119.0 L256.2,132.7 L257.0,130.9 L258.2,128.1 L259.1,129.1 L260.8,139.2 L261.2,141.9 L263.5,120.1 L263.7,119.8 L265.6,116.1 L267.6,112.5 L268.0,111.7 L270.0,114.2 L272.4,117.1 L274.8,120.1 L275.2,123.1 L276.6,140.0 L277.7,136.8 L278.9,142.9 L280.1,136.0 L280.9,135.8 L282.5,140.4 L283.9,131.5 L284.7,137.2 L285.7,149.4 L286.6,126.4 L287.2,139.2 L288.7,133.7 L289.8,131.5 L291.3,125.4 L292.6,120.0 L293.4,122.9 L295.7,131.1 L297.6,138.1 L297.8,138.9 L299.8,149.5 L300.3,148.9 L301.7,138.2 L301.8,144.3 L303.3,139.6 L304.7,139.0 L305.3,138.5 L307.0,132.4 L307.7,130.3 L308.9,130.1 L309.7,127.8 L310.7,128.3 L312.6,127.2 L312.7,127.3 L314.0,133.8 L314.6,129.8 L315.7,132.0 L317.4,123.4 L317.6,121.8 L319.4,120.0 L320.6,126.0 L321.0,130.9 L322.6,137.7 L322.8,137.4 L324.2,130.7 L324.6,133.7 L325.8,126.8 L327.4,127.4 L327.5,128.9 L328.8,139.2 L330.5,140.9 L330.7,142.6 L332.4,133.2 L332.5,147.6 L334.4,148.1 L335.5,154.7 L336.1,152.3 L337.9,145.4 L338.5,147.6 L339.7,148.5 L340.4,141.3 L341.5,145.4 L343.0,139.8 L343.4,139.0 L344.7,139.5 L346.2,142.0 L346.2,144.7 L347.8,149.6 L347.9,147.9 L349.2,146.2 L350.9,158.4 L351.3,156.7 L352.8,151.1 L353.9,148.4 L354.6,146.5 L356.1,144.0 L357.9,153.6 L358.1,147.0 L359.8,152.5 L359.9,155.4 L361.4,149.1 L362.8,149.7 L363.3,145.3 L365.3,140.5 L365.8,143.2 L367.3,148.7 L368.8,147.6 L369.0,149.5 L370.5,149.8 L371.7,154.3 L372.0,145.5 L374.0,145.9 L374.7,150.2 L375.7,155.6 L376.7,153.6 L377.2,154.6 L379.1,154.8 L379.7,156.3 L380.9,159.6 L382.7,155.7 L382.7,156.3 L384.3,156.3 L385.6,153.6 L385.9,154.6 L387.5,153.6 L387.6,159.3 L388.8,156.7 L390.6,163.8 L390.8,164.0 L392.5,160.1 L393.6,160.8 L394.2,162.2 L395.8,158.3 L396.5,155.9 L397.7,159.7 L399.0,155.6 L399.5,165.6 L400.7,167.3 L402.0,167.3 L402.5,165.2 L403.5,159.4 L405.5,157.8 L405.5,159.7 L407.3,159.0 L408.5,159.6 L409.0,163.3 L410.7,162.1 L411.4,161.1 L412.6,160.9 L414.2,165.4 L414.4,165.6 L416.0,159.6 L417.4,156.2 L417.8,157.4 L419.4,156.8 L420.9,159.8 L421.1,154.3 L422.8,159.2 L423.9,159.9 L424.5,163.5 L425.8,161.3 L426.9,168.3 L427.6,171.1 L428.8,173.9 L428.8,175.0 L430.4,173.2 L431.8,171.7 L432.1,167.3 L433.4,165.3 L434.8,165.3 L434.8,167.5 L436.5,167.4 L437.7,169.8 L437.8,166.3 L439.3,161.8 L439.8,165.8 L441.0,168.4 L442.5,173.2 L442.7,171.8 L444.1,171.3 L445.5,175.6 L445.7,173.8 L446.8,175.7 L448.2,169.9 L448.7,170.4 L449.5,172.7 L450.9,174.1 L451.7,174.1 L452.7,174.4 L454.2,176.7 L454.6,172.8 L455.6,173.0 L457.0,174.0 L457.6,175.9 L458.8,174.6 L460.2,175.0 L461.6,177.4 L462.0,177.8 L463.5,175.6 L465.1,179.4 L465.6,180.7 L466.8,176.1 L468.4,181.1 L469.5,181.0 L470.0,183.0 L471.4,180.3 L473.2,179.8 L473.5,177.6 L474.6,177.3 L476.4,181.3 L477.5,178.0 L477.6,183.7 L479.1,183.4 L480.6,179.9 L481.4,183.0 L482.4,182.6 L483.7,179.3 L485.4,181.0 L485.7,179.8 L487.0,178.8 L488.5,180.0 L488.6,179.4 L490.2,183.7 L491.3,181.0 L492.0,184.5 L493.4,182.4 L494.2,179.5 L494.8,179.8 L496.1,182.2 L497.0,181.5 L497.4,183.2 L498.7,184.2 L499.1,186.2 L500.5,183.5 L501.2,182.6 L502.2,181.7 L503.3,178.9 L503.4,181.2 L505.0,181.1 L505.5,181.2 L506.5,180.6 L508.0,181.4 L508.3,178.9 L509.6,180.3 L511.0,181.2 L511.1,181.0 L512.8,181.3 L514.0,181.1 L514.3,183.4 L515.8,181.8 L516.8,184.8 L517.4,180.5 L518.7,182.9 L519.6,185.5 L520.0,181.0 L521.4,182.4 L522.5,184.8 L523.1,182.9 L524.8,183.7 L525.3,186.5 L526.4,188.4 L527.7,185.8 L528.1,188.9 L529.4,190.3 L531.0,191.1 L531.1,189.4 L532.8,190.4 L534.3,191.4 L535.0,190.0"/><path class="r1" d="M87.1,103.0 L102.4,83.0 L115.4,81.9 L126.7,78.8 L136.7,75.0 L145.6,81.1 L150.0,83.3 L153.8,86.3 L160.8,70.2 L164.5,67.8 L168.3,66.3 L173.1,76.1 L180.7,61.3 L186.6,71.3 L194.2,81.2 L200.0,82.4 L202.5,87.5 L205.1,84.5 L207.5,99.8"/><path class="r" d="M205.1,84.5 L207.5,99.8 L210.0,97.8 L211.0,96.0 L212.8,97.2 L214.4,97.3 L215.5,96.2 L217.6,96.6 L219.1,96.4 L219.8,97.3 L220.4,97.7 L222.5,114.0 L222.6,112.7 L224.5,110.3 L225.2,109.0 L227.0,111.2 L227.2,112.1 L228.9,114.0 L229.9,114.3 L231.5,110.3 L232.3,110.7 L234.0,111.5 L234.5,111.4 L236.6,110.3 L236.7,110.1 L238.5,115.4 L238.8,116.2 L241.0,121.8 L241.2,121.6 L243.6,124.8 L243.6,119.0 L244.8,129.4 L246.0,145.3 L246.1,151.0 L247.6,129.7 L248.9,126.1 L249.5,119.5 L250.6,119.7 L251.6,118.5 L252.5,115.2 L253.8,118.0 L254.1,122.0 L256.2,129.9 L257.0,130.9 L258.2,125.5 L259.1,133.9 L260.8,145.0 L261.2,141.9 L263.5,121.8 L263.7,121.6 L265.6,119.4 L267.6,117.2 L268.0,116.8 L270.0,118.2 L272.4,120.0 L274.8,121.8 L275.2,124.0 L276.6,133.9 L277.7,143.8 L278.9,148.0 L280.1,144.4 L280.9,142.0 L282.5,143.6 L283.9,141.2 L284.7,149.3 L285.7,148.5 L286.6,149.0 L287.2,145.0 L288.7,131.1 L289.8,133.7 L291.3,129.2 L292.6,125.2 L293.4,127.7 L295.7,134.9 L297.6,141.0 L297.8,141.6 L299.8,143.5 L300.3,153.2 L301.7,145.6 L301.8,145.4 L303.3,140.2 L304.7,136.7 L305.3,135.0 L307.0,132.4 L307.7,133.7 L308.9,128.2 L309.7,127.8 L310.7,126.5 L312.6,125.5 L312.7,126.0 L314.0,127.9 L314.6,135.3 L315.7,127.9 L317.4,120.5 L317.6,120.7 L319.4,128.2 L320.6,129.8 L321.0,131.4 L322.6,137.7 L322.8,135.9 L324.2,134.2 L324.6,128.2 L325.8,133.2 L327.4,125.0 L327.5,133.9 L328.8,128.1 L330.5,138.4 L330.7,144.2 L332.4,147.3 L332.5,140.4 L334.4,150.8 L335.5,154.6 L336.1,155.9 L337.9,154.2 L338.5,144.8 L339.7,143.2 L340.4,141.4 L341.5,147.1 L343.0,142.9 L343.4,141.8 L344.7,148.7 L346.2,147.7 L346.2,147.2 L347.8,144.9 L347.9,149.7 L349.2,154.3 L350.9,160.0 L351.3,158.8 L352.8,148.7 L353.9,146.5 L354.6,150.4 L356.1,150.7 L357.9,153.6 L358.1,153.8 L359.8,155.6 L359.9,155.4 L361.4,152.5 L362.8,147.4 L363.3,145.0 L365.3,138.4 L365.8,147.7 L367.3,148.7 L368.8,149.7 L369.0,150.1 L370.5,150.7 L371.7,155.5 L372.0,153.2 L374.0,155.6 L374.7,155.6 L375.7,155.6 L376.7,153.6 L377.2,147.1 L379.1,157.2 L379.7,159.6 L380.9,159.6 L382.7,155.4 L382.7,157.6 L384.3,152.8 L385.6,153.6 L385.9,150.7 L387.5,158.6 L387.6,153.7 L388.8,157.6 L390.6,165.6 L390.8,165.5 L392.5,164.3 L393.6,161.4 L394.2,157.3 L395.8,157.5 L396.5,161.6 L397.7,162.3 L399.0,158.2 L399.5,165.1 L400.7,167.3 L402.0,167.7 L402.5,170.0 L403.5,161.6 L405.5,164.4 L405.5,165.6 L407.3,164.4 L408.5,162.0 L409.0,163.3 L410.7,162.1 L411.4,161.6 L412.6,163.2 L414.2,164.3 L414.4,160.6 L416.0,162.7 L417.4,163.6 L417.8,162.4 L419.4,161.4 L420.9,159.8 L421.1,154.6 L422.8,156.0 L423.9,155.1 L424.5,163.5 L425.8,166.6 L426.9,169.8 L427.6,171.6 L428.8,172.5 L428.8,175.0 L430.4,171.4 L431.8,169.1 L432.1,171.5 L433.4,169.3 L434.8,166.8 L434.8,169.8 L436.5,164.8 L437.7,165.8 L437.8,160.5 L439.3,165.8 L439.8,163.6 L441.0,168.2 L442.5,170.9 L442.7,173.6 L444.1,174.7 L445.5,172.2 L445.7,174.4 L446.8,175.7 L448.2,175.7 L448.7,175.6 L449.5,174.6 L450.9,175.7 L451.7,175.7 L452.7,176.4 L454.2,177.5 L454.6,177.7 L455.6,177.7 L457.0,177.3 L457.6,177.7 L458.8,178.3 L460.2,177.4 L461.6,179.6 L462.0,179.0 L463.5,180.2 L465.1,181.4 L465.6,181.7 L466.8,182.3 L468.4,183.2 L469.5,181.5 L470.0,181.2 L471.4,183.7 L473.2,183.7 L473.5,177.1 L474.6,182.6 L476.4,178.8 L477.5,180.9 L477.6,183.7 L479.1,177.7 L480.6,183.1 L481.4,181.9 L482.4,182.6 L483.7,182.0 L485.4,177.9 L485.7,179.9 L487.0,181.8 L488.5,181.7 L488.6,182.7 L490.2,182.5 L491.3,184.3 L492.0,182.4 L493.4,181.7 L494.2,181.2 L494.8,180.7 L496.1,182.2 L497.0,182.6 L497.4,183.2 L498.7,185.5 L499.1,186.0 L500.5,183.9 L501.2,182.6 L502.2,182.0 L503.3,181.2 L503.4,181.2 L505.0,181.2 L505.5,179.1 L506.5,181.7 L508.0,182.0 L508.3,181.1 L509.6,180.3 L511.0,181.2 L511.1,181.2 L512.8,182.4 L514.0,179.6 L514.3,182.0 L515.8,182.4 L516.8,184.8 L517.4,185.0 L518.7,185.3 L519.6,185.5 L520.0,183.8 L521.4,186.4 L522.5,183.8 L523.1,185.2 L524.8,188.0 L525.3,187.6 L526.4,188.9 L527.7,189.5 L528.1,189.7 L529.4,190.3 L531.0,191.1 L531.1,191.1 L532.8,192.0 L534.3,192.7 L535.0,192.3"/><path class="g1" d="M87.1,103.7 L102.4,83.7 L115.4,82.6 L126.7,79.4 L136.7,75.2 L145.6,79.7 L150.0,81.7 L153.8,84.7 L160.8,70.1 L164.5,68.0 L168.3,66.7 L173.1,75.5 L180.7,60.7 L186.6,70.7 L194.2,81.4 L200.0,82.6 L202.5,86.9 L205.1,83.9 L207.5,97.6"/><path class="g" d="M205.1,83.9 L207.5,97.6 L210.0,96.5 L211.0,94.7 L212.8,94.5 L214.4,95.8 L215.5,95.5 L217.6,94.0 L219.1,94.5 L219.8,95.3 L220.4,96.4 L222.5,110.4 L222.6,110.1 L224.5,106.9 L225.2,106.4 L227.0,108.0 L227.2,109.1 L228.9,110.6 L229.9,110.7 L231.5,107.7 L232.3,107.5 L234.0,107.8 L234.5,107.9 L236.6,106.5 L236.7,106.9 L238.5,111.5 L238.8,111.0 L241.0,115.5 L241.2,114.3 L243.6,116.0 L243.6,114.6 L244.8,126.8 L246.0,136.2 L246.1,134.8 L247.6,123.3 L248.9,117.2 L249.5,113.7 L250.6,112.3 L251.6,110.3 L252.5,109.9 L253.8,115.1 L254.1,117.8 L256.2,124.2 L257.0,121.5 L258.2,122.3 L259.1,118.3 L260.8,137.2 L261.2,126.1 L263.5,113.6 L263.7,112.7 L265.6,103.2 L267.6,93.6 L268.0,91.6 L270.0,98.1 L272.4,105.7 L274.8,113.6 L275.2,117.9 L276.6,123.7 L277.7,133.3 L278.9,129.4 L280.1,132.5 L280.9,136.2 L282.5,126.8 L283.9,131.8 L284.7,125.6 L285.7,124.4 L286.6,137.0 L287.2,127.3 L288.7,125.1 L289.8,122.8 L291.3,110.2 L292.6,99.0 L293.4,103.5 L295.7,116.2 L297.6,126.9 L297.8,128.0 L299.8,136.4 L300.3,136.1 L301.7,132.6 L301.8,135.8 L303.3,131.7 L304.7,134.0 L305.3,131.2 L307.0,126.3 L307.7,125.9 L308.9,123.1 L309.7,120.6 L310.7,119.4 L312.6,125.1 L312.7,122.7 L314.0,128.3 L314.6,131.0 L315.7,123.6 L317.4,114.1 L317.6,114.4 L319.4,111.9 L320.6,116.6 L321.0,117.8 L322.6,127.7 L322.8,121.5 L324.2,120.2 L324.6,122.5 L325.8,117.9 L327.4,111.6 L327.5,106.0 L328.8,107.3 L330.5,112.1 L330.7,106.8 L332.4,121.7 L332.5,127.6 L334.4,131.8 L335.5,139.2 L336.1,135.1 L337.9,137.7 L338.5,140.6 L339.7,137.5 L340.4,137.5 L341.5,136.7 L343.0,136.2 L343.4,134.6 L344.7,128.2 L346.2,133.5 L346.2,133.0 L347.8,131.1 L347.9,135.8 L349.2,141.6 L350.9,148.8 L351.3,141.2 L352.8,144.9 L353.9,143.6 L354.6,141.3 L356.1,140.6 L357.9,135.8 L358.1,141.9 L359.8,144.7 L359.9,140.3 L361.4,135.7 L362.8,133.8 L363.3,135.0 L365.3,129.5 L365.8,130.0 L367.3,134.2 L368.8,137.1 L369.0,139.6 L370.5,143.7 L371.7,147.8 L372.0,145.8 L374.0,141.4 L374.7,146.9 L375.7,144.7 L376.7,142.7 L377.2,140.9 L379.1,142.9 L379.7,141.7 L380.9,142.5 L382.7,143.7 L382.7,147.0 L384.3,140.9 L385.6,140.6 L385.9,140.6 L387.5,143.4 L387.6,145.4 L388.8,149.3 L390.6,153.3 L390.8,154.8 L392.5,153.8 L393.6,155.5 L394.2,154.4 L395.8,152.7 L396.5,153.3 L397.7,154.5 L399.0,153.3 L399.5,158.3 L400.7,151.5 L402.0,157.8 L402.5,156.8 L403.5,154.1 L405.5,157.3 L405.5,151.8 L407.3,155.0 L408.5,153.6 L409.0,157.6 L410.7,152.7 L411.4,152.6 L412.6,153.2 L414.2,157.3 L414.4,161.5 L416.0,159.0 L417.4,155.2 L417.8,151.8 L419.4,153.5 L420.9,149.4 L421.1,144.3 L422.8,148.7 L423.9,149.4 L424.5,153.4 L425.8,153.6 L426.9,164.4 L427.6,164.0 L428.8,165.3 L428.8,161.2 L430.4,162.5 L431.8,165.2 L432.1,164.7 L433.4,163.8 L434.8,161.6 L434.8,159.7 L436.5,159.4 L437.7,159.7 L437.8,162.6 L439.3,157.8 L439.8,156.9 L441.0,161.7 L442.5,166.2 L442.7,164.4 L444.1,163.6 L445.5,168.0 L445.7,166.8 L446.8,171.9 L448.2,169.3 L448.7,168.1 L449.5,168.4 L450.9,169.9 L451.7,169.3 L452.7,169.9 L454.2,169.5 L454.6,167.0 L455.6,170.1 L457.0,173.6 L457.6,173.8 L458.8,172.2 L460.2,176.2 L461.6,173.3 L462.0,176.6 L463.5,174.3 L465.1,174.9 L465.6,175.1 L466.8,174.8 L468.4,176.6 L469.5,174.1 L470.0,171.7 L471.4,173.2 L473.2,176.4 L473.5,174.1 L474.6,174.5 L476.4,171.7 L477.5,176.3 L477.6,172.2 L479.1,172.8 L480.6,175.2 L481.4,175.1 L482.4,177.2 L483.7,177.0 L485.4,176.5 L485.7,176.1 L487.0,176.5 L488.5,176.2 L488.6,176.3 L490.2,178.0 L491.3,178.4 L492.0,180.7 L493.4,177.1 L494.2,175.3 L494.8,174.5 L496.1,175.6 L497.0,177.7 L497.4,177.3 L498.7,178.5 L499.1,179.1 L500.5,177.7 L501.2,177.4 L502.2,175.8 L503.3,175.7 L503.4,176.3 L505.0,177.0 L505.5,177.8 L506.5,176.4 L508.0,179.1 L508.3,180.4 L509.6,178.4 L511.0,176.8 L511.1,177.0 L512.8,176.8 L514.0,177.8 L514.3,177.2 L515.8,179.0 L516.8,180.1 L517.4,179.7 L518.7,182.0 L519.6,179.6 L520.0,181.6 L521.4,184.3 L522.5,182.0 L523.1,183.3 L524.8,184.1 L525.3,184.1 L526.4,184.4 L527.7,183.8 L528.1,184.5 L529.4,187.7 L531.0,185.9 L531.1,187.3 L532.8,186.4 L534.3,188.4 L535.0,189.3"/><path class="g1" d="M87.1,103.8 L102.4,83.8 L115.4,82.7 L126.7,79.5 L136.7,75.3 L145.6,79.8 L150.0,81.8 L153.8,84.8 L160.8,70.2 L164.5,68.1 L168.3,66.8 L173.1,75.6 L180.7,60.8 L186.6,70.8 L194.2,81.5 L200.0,82.7 L202.5,87.0 L205.1,84.0 L207.5,98.9"/><path class="g" d="M205.1,84.0 L207.5,98.9 L210.0,96.8 L211.0,94.9 L212.8,95.7 L214.4,95.8 L215.5,95.0 L217.6,95.6 L219.1,94.7 L219.8,95.6 L220.4,96.3 L222.5,111.4 L222.6,111.5 L224.5,107.8 L225.2,106.1 L227.0,108.4 L227.2,108.6 L228.9,113.7 L229.9,110.2 L231.5,107.2 L232.3,108.2 L234.0,108.7 L234.5,108.7 L236.6,108.2 L236.7,108.1 L238.5,113.3 L238.8,113.5 L241.0,118.9 L241.2,119.2 L243.6,116.8 L243.6,119.3 L244.8,125.2 L246.0,142.1 L246.1,145.2 L247.6,129.4 L248.9,122.6 L249.5,118.9 L250.6,118.2 L251.6,117.0 L252.5,114.0 L253.8,116.6 L254.1,116.9 L256.2,128.1 L257.0,125.6 L258.2,122.6 L259.1,130.2 L260.8,138.5 L261.2,134.4 L263.5,116.0 L263.7,115.3 L265.6,107.9 L267.6,100.5 L268.0,99.0 L270.0,104.0 L272.4,109.9 L274.8,116.0 L275.2,118.8 L276.6,127.3 L277.7,139.6 L278.9,135.9 L280.1,136.4 L280.9,128.5 L282.5,132.8 L283.9,127.9 L284.7,123.5 L285.7,135.1 L286.6,135.2 L287.2,131.3 L288.7,128.0 L289.8,126.0 L291.3,115.8 L292.6,106.8 L293.4,110.6 L295.7,121.7 L297.6,131.0 L297.8,132.0 L299.8,140.8 L300.3,145.0 L301.7,142.0 L301.8,138.1 L303.3,139.4 L304.7,134.7 L305.3,133.5 L307.0,128.2 L307.7,125.2 L308.9,125.7 L309.7,119.2 L310.7,124.3 L312.6,121.6 L312.7,125.1 L314.0,125.0 L314.6,127.9 L315.7,125.5 L317.4,116.8 L317.6,111.7 L319.4,115.4 L320.6,119.2 L321.0,125.0 L322.6,122.9 L322.8,130.0 L324.2,124.6 L324.6,124.7 L325.8,116.9 L327.4,108.0 L327.5,113.5 L328.8,115.4 L330.5,115.7 L330.7,115.2 L332.4,126.2 L332.5,139.3 L334.4,145.1 L335.5,144.0 L336.1,151.7 L337.9,146.4 L338.5,143.9 L339.7,141.3 L340.4,138.7 L341.5,139.3 L343.0,143.3 L343.4,137.3 L344.7,135.3 L346.2,134.2 L346.2,136.4 L347.8,136.2 L347.9,134.6 L349.2,141.5 L350.9,148.4 L351.3,145.6 L352.8,149.7 L353.9,145.2 L354.6,142.8 L356.1,146.2 L357.9,145.7 L358.1,147.0 L359.8,148.2 L359.9,146.6 L361.4,149.8 L362.8,142.9 L363.3,146.5 L365.3,146.9 L365.8,143.6 L367.3,144.1 L368.8,142.5 L369.0,143.1 L370.5,148.1 L371.7,151.0 L372.0,146.3 L374.0,145.9 L374.7,153.0 L375.7,150.9 L376.7,145.6 L377.2,150.6 L379.1,148.9 L379.7,151.5 L380.9,150.7 L382.7,152.0 L382.7,147.5 L384.3,150.6 L385.6,149.8 L385.9,153.4 L387.5,156.9 L387.6,154.4 L388.8,161.3 L390.6,162.9 L390.8,161.0 L392.5,159.8 L393.6,155.7 L394.2,158.4 L395.8,154.7 L396.5,150.6 L397.7,152.8 L399.0,150.9 L399.5,155.4 L400.7,161.3 L402.0,159.2 L402.5,160.6 L403.5,163.6 L405.5,156.3 L405.5,156.4 L407.3,157.2 L408.5,152.2 L409.0,153.1 L410.7,155.9 L411.4,151.4 L412.6,152.4 L414.2,158.0 L414.4,159.0 L416.0,162.4 L417.4,161.3 L417.8,160.8 L419.4,160.2 L420.9,155.4 L421.1,154.4 L422.8,152.5 L423.9,154.7 L424.5,156.7 L425.8,155.7 L426.9,165.2 L427.6,165.7 L428.8,164.2 L428.8,167.9 L430.4,164.3 L431.8,167.5 L432.1,164.2 L433.4,164.1 L434.8,164.3 L434.8,164.0 L436.5,162.4 L437.7,163.2 L437.8,166.1 L439.3,164.3 L439.8,159.5 L441.0,163.6 L442.5,168.6 L442.7,167.5 L444.1,164.6 L445.5,168.4 L445.7,170.3 L446.8,172.8 L448.2,172.1 L448.7,169.4 L449.5,168.5 L450.9,168.5 L451.7,171.6 L452.7,171.1 L454.2,173.6 L454.6,174.8 L455.6,171.3 L457.0,173.7 L457.6,174.9 L458.8,174.5 L460.2,173.4 L461.6,175.6 L462.0,175.2 L463.5,175.6 L465.1,173.9 L465.6,171.8 L466.8,174.9 L468.4,174.0 L469.5,177.6 L470.0,175.5 L471.4,175.9 L473.2,174.6 L473.5,173.9 L474.6,176.9 L476.4,177.4 L477.5,179.3 L477.6,178.9 L479.1,180.2 L480.6,178.9 L481.4,177.5 L482.4,178.3 L483.7,180.5 L485.4,177.3 L485.7,177.4 L487.0,179.6 L488.5,178.3 L488.6,176.6 L490.2,177.6 L491.3,180.5 L492.0,177.0 L493.4,177.9 L494.2,176.2 L494.8,177.4 L496.1,178.8 L497.0,178.6 L497.4,177.8 L498.7,178.6 L499.1,176.9 L500.5,179.3 L501.2,177.6 L502.2,178.1 L503.3,177.6 L503.4,178.7 L505.0,178.7 L505.5,178.5 L506.5,179.5 L508.0,178.6 L508.3,178.8 L509.6,178.3 L511.0,177.8 L511.1,177.7 L512.8,179.9 L514.0,178.3 L514.3,180.6 L515.8,178.2 L516.8,181.2 L517.4,179.7 L518.7,182.9 L519.6,183.3 L520.0,178.2 L521.4,182.3 L522.5,183.4 L523.1,183.6 L524.8,186.4 L525.3,184.1 L526.4,185.1 L527.7,186.8 L528.1,183.9 L529.4,184.6 L531.0,188.7 L531.1,187.5 L532.8,190.4 L534.3,188.3 L535.0,192.0"/><path class="g1" d="M87.1,103.9 L102.4,83.9 L115.4,82.8 L126.7,79.6 L136.7,75.4 L145.6,79.9 L150.0,81.9 L153.8,84.9 L160.8,70.3 L164.5,68.2 L168.3,66.9 L173.1,75.7 L180.7,60.9 L186.6,70.9 L194.2,81.6 L200.0,82.8 L202.5,87.1 L205.1,84.1 L207.5,99.8"/><path class="g" d="M205.1,84.1 L207.5,99.8 L210.0,96.9 L211.0,97.0 L212.8,96.1 L214.4,97.1 L215.5,96.8 L217.6,95.4 L219.1,96.1 L219.8,96.1 L220.4,97.3 L222.5,112.9 L222.6,111.8 L224.5,108.5 L225.2,107.5 L227.0,110.5 L227.2,111.3 L228.9,113.9 L229.9,111.3 L231.5,108.3 L232.3,109.3 L234.0,108.9 L234.5,110.6 L236.6,109.5 L236.7,109.1 L238.5,113.4 L238.8,115.6 L241.0,119.3 L241.2,119.5 L243.6,122.6 L243.6,120.2 L244.8,129.3 L246.0,142.8 L246.1,149.0 L247.6,131.5 L248.9,124.0 L249.5,118.6 L250.6,117.3 L251.6,112.6 L252.5,112.9 L253.8,115.6 L254.1,116.8 L256.2,119.0 L257.0,123.4 L258.2,121.4 L259.1,120.8 L260.8,139.7 L261.2,140.1 L263.5,118.4 L263.7,117.9 L265.6,112.7 L267.6,107.5 L268.0,106.4 L270.0,109.9 L272.4,114.1 L274.8,118.4 L275.2,123.1 L276.6,133.0 L277.7,131.8 L278.9,142.5 L280.1,140.7 L280.9,134.4 L282.5,140.2 L283.9,145.0 L284.7,145.4 L285.7,153.9 L286.6,141.2 L287.2,139.4 L288.7,132.9 L289.8,129.2 L291.3,121.4 L292.6,114.5 L293.4,117.8 L295.7,127.2 L297.6,135.2 L297.8,136.0 L299.8,145.0 L300.3,153.2 L301.7,145.3 L301.8,140.9 L303.3,137.7 L304.7,138.2 L305.3,135.2 L307.0,134.7 L307.7,127.0 L308.9,129.6 L309.7,124.5 L310.7,124.7 L312.6,124.8 L312.7,125.1 L314.0,127.3 L314.6,129.5 L315.7,122.7 L317.4,118.4 L317.6,123.7 L319.4,127.3 L320.6,123.2 L321.0,122.2 L322.6,133.4 L322.8,131.0 L324.2,125.7 L324.6,127.4 L325.8,127.1 L327.4,116.9 L327.5,125.4 L328.8,123.9 L330.5,131.4 L330.7,130.6 L332.4,137.1 L332.5,145.7 L334.4,151.5 L335.5,148.9 L336.1,151.1 L337.9,147.1 L338.5,142.7 L339.7,146.5 L340.4,136.3 L341.5,144.1 L343.0,143.7 L343.4,142.7 L344.7,140.2 L346.2,138.6 L346.2,141.8 L347.8,141.3 L347.9,143.9 L349.2,152.1 L350.9,153.7 L351.3,152.9 L352.8,151.3 L353.9,147.8 L354.6,147.4 L356.1,145.8 L357.9,149.0 L358.1,147.3 L359.8,147.0 L359.9,149.4 L361.4,145.9 L362.8,142.2 L363.3,145.7 L365.3,137.1 L365.8,138.2 L367.3,137.9 L368.8,142.6 L369.0,148.0 L370.5,153.1 L371.7,154.5 L372.0,153.4 L374.0,154.2 L374.7,149.8 L375.7,147.6 L376.7,154.3 L377.2,149.0 L379.1,156.8 L379.7,151.5 L380.9,155.4 L382.7,153.2 L382.7,155.8 L384.3,155.1 L385.6,148.1 L385.9,150.1 L387.5,154.9 L387.6,152.3 L388.8,154.9 L390.6,160.2 L390.8,165.5 L392.5,161.4 L393.6,157.0 L394.2,159.8 L395.8,156.9 L396.5,156.4 L397.7,159.1 L399.0,160.4 L399.5,160.5 L400.7,158.4 L402.0,165.2 L402.5,166.2 L403.5,163.4 L405.5,163.8 L405.5,161.3 L407.3,160.1 L408.5,160.0 L409.0,156.9 L410.7,156.3 L411.4,155.4 L412.6,156.8 L414.2,157.2 L414.4,160.1 L416.0,161.2 L417.4,158.7 L417.8,156.1 L419.4,158.2 L420.9,154.3 L421.1,153.6 L422.8,157.1 L423.9,161.8 L424.5,159.8 L425.8,162.2 L426.9,166.6 L427.6,166.4 L428.8,166.8 L428.8,170.7 L430.4,167.0 L431.8,168.8 L432.1,167.5 L433.4,168.7 L434.8,166.0 L434.8,164.9 L436.5,164.9 L437.7,167.9 L437.8,169.8 L439.3,160.3 L439.8,160.1 L441.0,167.4 L442.5,168.5 L442.7,166.3 L444.1,172.5 L445.5,170.4 L445.7,172.9 L446.8,174.1 L448.2,173.4 L448.7,173.9 L449.5,171.7 L450.9,169.5 L451.7,169.4 L452.7,172.2 L454.2,174.2 L454.6,171.6 L455.6,172.3 L457.0,173.6 L457.6,175.2 L458.8,176.0 L460.2,176.1 L461.6,178.7 L462.0,177.6 L463.5,178.8 L465.1,179.5 L465.6,178.8 L466.8,182.3 L468.4,183.2 L469.5,183.7 L470.0,180.5 L471.4,182.1 L473.2,181.3 L473.5,179.9 L474.6,179.9 L476.4,178.7 L477.5,177.3 L477.6,177.1 L479.1,179.1 L480.6,181.4 L481.4,180.1 L482.4,178.8 L483.7,179.8 L485.4,177.9 L485.7,177.6 L487.0,178.0 L488.5,180.8 L488.6,179.3 L490.2,182.6 L491.3,182.3 L492.0,180.6 L493.4,178.6 L494.2,178.0 L494.8,179.0 L496.1,181.4 L497.0,181.1 L497.4,181.2 L498.7,184.2 L499.1,180.6 L500.5,180.4 L501.2,180.1 L502.2,178.7 L503.3,178.9 L503.4,179.2 L505.0,180.6 L505.5,178.1 L506.5,178.6 L508.0,179.3 L508.3,180.3 L509.6,180.6 L511.0,178.9 L511.1,181.2 L512.8,180.7 L514.0,181.5 L514.3,180.7 L515.8,181.8 L516.8,183.2 L517.4,182.9 L518.7,182.7 L519.6,182.5 L520.0,183.2 L521.4,183.1 L522.5,186.7 L523.1,183.0 L524.8,185.0 L525.3,187.4 L526.4,184.5 L527.7,186.0 L528.1,187.4 L529.4,188.6 L531.0,188.9 L531.1,189.6 L532.8,191.2 L534.3,191.0 L535.0,191.7"/>
</g>
<rect x="87.1" y="13.4" width="447.4" height="276.1" class="ax"/>
<text x="59.71" y="20.0" font-size="20.6" textLength="20.38" lengthAdjust="spacingAndGlyphs" class="t">60</text><text x="60.7" y="75.22" font-size="20.6" textLength="19.36" lengthAdjust="spacingAndGlyphs" class="t">40</text><text x="59.71" y="130.44000000000003" font-size="20.6" textLength="20.38" lengthAdjust="spacingAndGlyphs" class="t">20</text><text x="70.0" y="185.66000000000003" font-size="20.6" textLength="10.3" lengthAdjust="spacingAndGlyphs" class="t">0</text><text x="59.71" y="240.88000000000002" font-size="20.6" textLength="20.38" lengthAdjust="spacingAndGlyphs" class="t">20</text><text x="44.67" y="241.78" font-size="20" textLength="15.04" lengthAdjust="spacingAndGlyphs" class="t">−</text><text x="60.7" y="296.1" font-size="20.6" textLength="19.36" lengthAdjust="spacingAndGlyphs" class="t">40</text><text x="44.67" y="297.0" font-size="20" textLength="15.04" lengthAdjust="spacingAndGlyphs" class="t">−</text><text x="130.51" y="314.6" font-size="20.2" textLength="20.54" lengthAdjust="spacingAndGlyphs" class="t">10</text><text x="149.87" y="307.3" font-size="14.6" textLength="8.63" lengthAdjust="spacingAndGlyphs" class="t">2</text><text x="325.01" y="314.6" font-size="20.2" textLength="20.54" lengthAdjust="spacingAndGlyphs" class="t">10</text><text x="344.37" y="307.3" font-size="14.6" textLength="8.63" lengthAdjust="spacingAndGlyphs" class="t">3</text><text x="519.51" y="314.6" font-size="20.2" textLength="20.54" lengthAdjust="spacingAndGlyphs" class="t">10</text><text x="540.05" y="307.3" font-size="14.6" textLength="7.4" lengthAdjust="spacingAndGlyphs" class="t">4</text><text x="232.22" y="342.8" font-size="20" textLength="91.13" lengthAdjust="spacingAndGlyphs" class="t">Frequency</text><text x="329.5" y="342.8" font-size="20" font-style="italic" textLength="6.81" lengthAdjust="spacingAndGlyphs" class="t">f</text><text x="347.2" y="344.6" font-size="23" textLength="8.73" lengthAdjust="spacingAndGlyphs" class="t">/</text><text x="361.65" y="342.8" font-size="20" textLength="26.93" lengthAdjust="spacingAndGlyphs" class="t">Hz</text><text x="-230.93" y="24.0" font-size="20" transform="rotate(-90)" textLength="35.33" lengthAdjust="spacingAndGlyphs" class="t">SPL</text><text x="-190.2" y="23.6" font-size="20" font-style="italic" transform="rotate(-90)" textLength="11.46" lengthAdjust="spacingAndGlyphs" class="t">L</text><text x="-178.3" y="26.3" font-size="14" transform="rotate(-90)" textLength="7.1" lengthAdjust="spacingAndGlyphs" class="t">p</text><text x="-162.1" y="26.0" font-size="24" transform="rotate(-90)" textLength="7.62" lengthAdjust="spacingAndGlyphs" class="t">/</text><text x="-146.41" y="24.0" font-size="20" transform="rotate(-90)" textLength="10.11" lengthAdjust="spacingAndGlyphs" class="t">d</text><text x="-134.3" y="24.0" font-size="20" transform="rotate(-90)" textLength="12.01" lengthAdjust="spacingAndGlyphs" class="t">B</text><text x="-121.0" y="24.0" font-size="20" transform="rotate(-90)" textLength="17.34" lengthAdjust="spacingAndGlyphs" class="t">H</text><text x="-103.1" y="24.0" font-size="20" transform="rotate(-90)" textLength="10.0" lengthAdjust="spacingAndGlyphs" class="t">z</text><text x="-93.3" y="15.8" font-size="14" transform="rotate(-90)" textLength="11.86" lengthAdjust="spacingAndGlyphs" class="t">−</text><text x="-81.52" y="15.8" font-size="14" transform="rotate(-90)" textLength="7.14" lengthAdjust="spacingAndGlyphs" class="t">1</text>
</svg>
</body></html>
